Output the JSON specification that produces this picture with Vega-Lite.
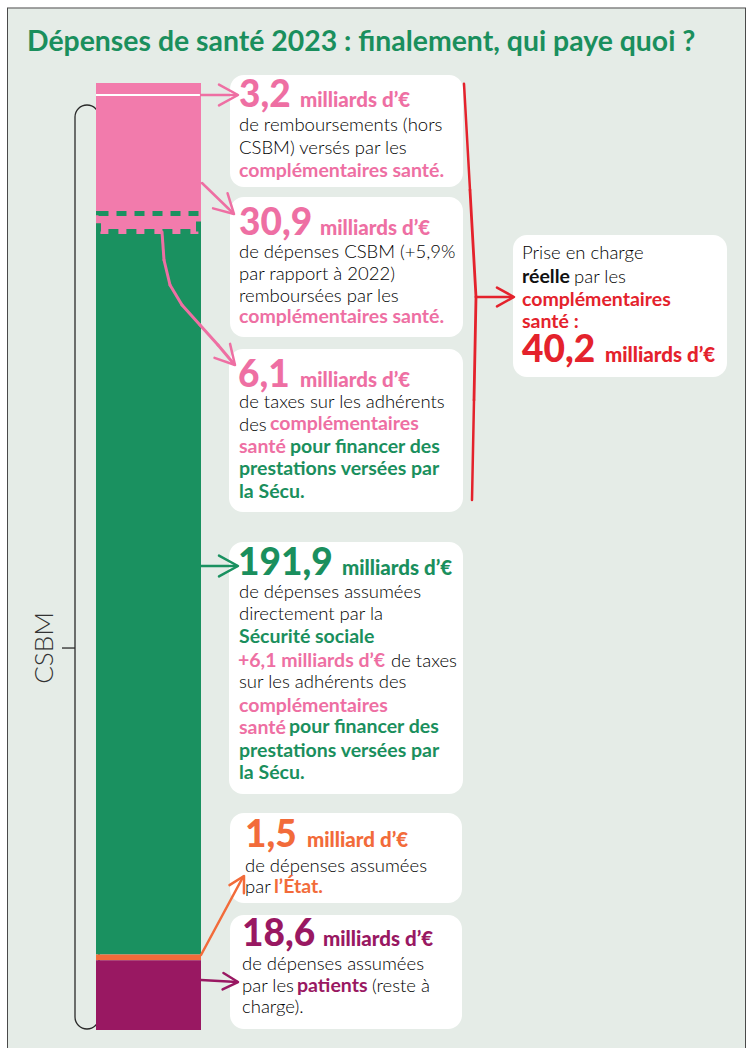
{
  "$schema": "https://vega.github.io/schema/vega-lite/v6.json",
  "width": 749,
  "height": 1048,
  "autosize": {"type": "none"},
  "padding": 0,
  "background": "#ffffff",
  "data": {"values": [{}]},
  "datasets": {
    "segs": [
      {"rank": 1, "segment": "Remboursements hors CSBM des complémentaires santé", "payer": "Complémentaires santé", "value": 3.2},
      {"rank": 2, "segment": "Dépenses CSBM remboursées par les complémentaires santé", "payer": "Complémentaires santé", "value": 30.9},
      {"rank": 3, "segment": "Taxes sur les adhérents des complémentaires santé", "payer": "Complémentaires santé", "value": 6.1},
      {"rank": 4, "segment": "Dépenses assumées par la Sécurité sociale", "payer": "Sécurité sociale", "value": 191.9},
      {"rank": 5, "segment": "Dépenses assumées par l'État", "payer": "État", "value": 1.5},
      {"rank": 6, "segment": "Reste à charge des patients", "payer": "Patients", "value": 18.6}
    ]
  },
  "config": {
    "view": {"stroke": null},
    "axis": {"disable": true},
    "style": {
      "big": {"font": "Lato", "fontWeight": 900, "fontSize": 37, "align": "left", "baseline": "alphabetic"},
      "unit": {"font": "Lato", "fontWeight": 900, "fontSize": 20.5, "align": "left", "baseline": "alphabetic"},
      "body": {"font": "Lato", "fontWeight": 300, "fontSize": 18.5, "fill": "#3a3a3a", "align": "left", "baseline": "alphabetic", "lineHeight": 22.5},
      "bold": {"font": "Lato", "fontWeight": 700, "fontSize": 19.5, "align": "left", "baseline": "alphabetic", "lineHeight": 22.5}
    }
  },
  "layer": [
    {"mark": {"type": "rect", "fill": "#E5ECE7"},
     "encoding": {
       "x": {"datum": 7, "type": "quantitative", "scale": {"domain": [0, 749], "nice": false, "zero": false}, "axis": null},
       "x2": {"datum": 746},
       "y": {"datum": -19.97, "type": "quantitative", "scale": {"domain": [-22.1, 257], "reverse": true, "nice": false, "zero": false}, "axis": null},
       "y2": {"datum": 257}}},
    {"mark": {"type": "rule", "stroke": "#4a4a4a", "strokeWidth": 1},
     "encoding": {"x": {"datum": 7, "type": "quantitative"}, "x2": {"datum": 746}, "y": {"datum": -19.97, "type": "quantitative"}}},
    {"mark": {"type": "rule", "stroke": "#4a4a4a", "strokeWidth": 1},
     "encoding": {"x": {"datum": 7.5, "type": "quantitative"}, "y": {"datum": -19.97, "type": "quantitative"}, "y2": {"datum": 257}}},
    {"mark": {"type": "rule", "stroke": "#4a4a4a", "strokeWidth": 1},
     "encoding": {"x": {"datum": 745.5, "type": "quantitative"}, "y": {"datum": -19.97, "type": "quantitative"}, "y2": {"datum": 257}}},
    {"mark": {"type": "text", "text": "Dépenses de santé 2023 : finalement, qui paye quoi ?", "font": "Lato", "fontWeight": 700, "fontSize": 28.4, "fill": "#1A8F5D", "align": "left", "baseline": "alphabetic"},
     "encoding": {"x": {"datum": 27, "type": "quantitative"}, "y": {"datum": -8.52, "type": "quantitative"}}},

    {"mark": {"type": "rect", "fillOpacity": 0, "stroke": "#2a2a2a", "strokeWidth": 1.3, "cornerRadius": 13},
     "encoding": {"x": {"datum": 75, "type": "quantitative"}, "x2": {"datum": 99}, "y": {"datum": 5.86, "type": "quantitative"}, "y2": {"datum": 251.94}}},
    {"mark": {"type": "rule", "stroke": "#2a2a2a", "strokeWidth": 1.3},
     "encoding": {"x": {"datum": 62, "type": "quantitative"}, "x2": {"datum": 75}, "y": {"datum": 150.48, "type": "quantitative"}}},
    {"mark": {"type": "text", "text": "CSBM", "angle": 270, "align": "center", "baseline": "alphabetic", "font": "Lato", "fontWeight": 300, "fontSize": 26, "fill": "#333333"},
     "encoding": {"x": {"datum": 53, "type": "quantitative"}, "y": {"datum": 150.48, "type": "quantitative"}}},

    {"data": {"name": "segs"},
     "transform": [{"stack": "value", "groupby": [], "sort": [{"field": "rank", "order": "ascending"}], "as": ["v0", "v1"]}],
     "mark": {"type": "rect"},
     "encoding": {
       "x": {"datum": 96, "type": "quantitative"}, "x2": {"datum": 201},
       "y": {"field": "v0", "type": "quantitative"}, "y2": {"field": "v1"},
       "color": {"field": "payer", "type": "nominal", "legend": null,
         "scale": {"domain": ["Complémentaires santé", "Sécurité sociale", "État", "Patients"], "range": ["#F27BAC", "#1A9160", "#F26B3A", "#991862"]}}}},
    {"data": {"name": "segs"},
     "transform": [{"stack": "value", "groupby": [], "sort": [{"field": "rank", "order": "ascending"}], "as": ["v0", "v1"]}, {"filter": "datum.rank == 3"}],
     "mark": {"type": "rect", "fillOpacity": 0, "stroke": "#1A9160", "strokeWidth": 5, "strokeDash": [10, 8], "yOffset": 2.5, "y2Offset": -2.5},
     "encoding": {"x": {"datum": 98.5, "type": "quantitative"}, "x2": {"datum": 198.5}, "y": {"field": "v0", "type": "quantitative"}, "y2": {"field": "v1"}}},
    {"data": {"name": "segs"},
     "transform": [{"stack": "value", "groupby": [], "sort": [{"field": "rank", "order": "ascending"}], "as": ["v0", "v1"]}, {"filter": "datum.rank == 1"}],
     "mark": {"type": "rule", "stroke": "#ffffff", "strokeWidth": 2},
     "encoding": {"x": {"datum": 96, "type": "quantitative"}, "x2": {"datum": 201}, "y": {"field": "v1", "type": "quantitative"}}},

    {"mark": {"type": "rect", "fill": "#ffffff", "cornerRadius": 14},
     "encoding": {"x": {"datum": 230, "type": "quantitative"}, "x2": {"datum": 463}, "y": {"datum": -2.13, "type": "quantitative"}, "y2": {"datum": 27.7}}},
    {"mark": {"type": "rect", "fill": "#ffffff", "cornerRadius": 14},
     "encoding": {"x": {"datum": 230, "type": "quantitative"}, "x2": {"datum": 463}, "y": {"datum": 30.37, "type": "quantitative"}, "y2": {"datum": 67.65}}},
    {"mark": {"type": "rect", "fill": "#ffffff", "cornerRadius": 14},
     "encoding": {"x": {"datum": 229, "type": "quantitative"}, "x2": {"datum": 463}, "y": {"datum": 70.85, "type": "quantitative"}, "y2": {"datum": 114.26}}},
    {"mark": {"type": "rect", "fill": "#ffffff", "cornerRadius": 14},
     "encoding": {"x": {"datum": 513, "type": "quantitative"}, "x2": {"datum": 727}, "y": {"datum": 40.49, "type": "quantitative"}, "y2": {"datum": 78.3}}},
    {"mark": {"type": "rect", "fill": "#ffffff", "cornerRadius": 14},
     "encoding": {"x": {"datum": 229, "type": "quantitative"}, "x2": {"datum": 463}, "y": {"datum": 122.25, "type": "quantitative"}, "y2": {"datum": 189.36}}},
    {"mark": {"type": "rect", "fill": "#ffffff", "cornerRadius": 14},
     "encoding": {"x": {"datum": 230, "type": "quantitative"}, "x2": {"datum": 462}, "y": {"datum": 194.42, "type": "quantitative"}, "y2": {"datum": 218.39}}},
    {"mark": {"type": "rect", "fill": "#ffffff", "cornerRadius": 14},
     "encoding": {"x": {"datum": 230, "type": "quantitative"}, "x2": {"datum": 462}, "y": {"datum": 221.58, "type": "quantitative"}, "y2": {"datum": 251.94}}},

    {"mark": {"type": "rule", "stroke": "#EE6FA3", "strokeWidth": 2.5, "strokeCap": "round"},
     "encoding": {"x": {"datum": 201, "type": "quantitative"}, "x2": {"datum": 237}, "y": {"datum": 3.2, "type": "quantitative"}}},
    {"mark": {"type": "point", "shape": "M-1,-0.55L0,0L-1,0.55", "size": 1444, "angle": 0, "filled": false, "stroke": "#EE6FA3", "strokeWidth": 2.5, "opacity": 1, "strokeCap": "round", "strokeJoin": "round"},
     "encoding": {"x": {"datum": 238, "type": "quantitative"}, "y": {"datum": 3.2, "type": "quantitative"}}},
    {"mark": {"type": "rule", "stroke": "#EE6FA3", "strokeWidth": 2.5, "strokeCap": "round"},
     "encoding": {"x": {"datum": 202, "type": "quantitative"}, "x2": {"datum": 233}, "y": {"datum": 26.64, "type": "quantitative"}, "y2": {"datum": 34.63}}},
    {"mark": {"type": "point", "shape": "M-1,-0.55L0,0L-1,0.55", "size": 1444, "angle": 44, "filled": false, "stroke": "#EE6FA3", "strokeWidth": 2.5, "opacity": 1, "strokeCap": "round", "strokeJoin": "round"},
     "encoding": {"x": {"datum": 234, "type": "quantitative"}, "y": {"datum": 34.9, "type": "quantitative"}}},
    {"mark": {"type": "rule", "stroke": "#EE6FA3", "strokeWidth": 3, "strokeCap": "round"},
     "encoding": {"x": {"datum": 162, "type": "quantitative"}, "x2": {"datum": 164}, "y": {"datum": 39.69, "type": "quantitative"}, "y2": {"datum": 47.14}}},
    {"mark": {"type": "rule", "stroke": "#EE6FA3", "strokeWidth": 3, "strokeCap": "round"},
     "encoding": {"x": {"datum": 164, "type": "quantitative"}, "x2": {"datum": 170}, "y": {"datum": 47.14, "type": "quantitative"}, "y2": {"datum": 53.8}}},
    {"mark": {"type": "rule", "stroke": "#EE6FA3", "strokeWidth": 3, "strokeCap": "round"},
     "encoding": {"x": {"datum": 170, "type": "quantitative"}, "x2": {"datum": 182}, "y": {"datum": 53.8, "type": "quantitative"}, "y2": {"datum": 59.13}}},
    {"mark": {"type": "rule", "stroke": "#EE6FA3", "strokeWidth": 3, "strokeCap": "round"},
     "encoding": {"x": {"datum": 182, "type": "quantitative"}, "x2": {"datum": 200}, "y": {"datum": 59.13, "type": "quantitative"}, "y2": {"datum": 64.45}}},
    {"mark": {"type": "rule", "stroke": "#EE6FA3", "strokeWidth": 3, "strokeCap": "round"},
     "encoding": {"x": {"datum": 200, "type": "quantitative"}, "x2": {"datum": 218}, "y": {"datum": 64.45, "type": "quantitative"}, "y2": {"datum": 69.78}}},
    {"mark": {"type": "rule", "stroke": "#EE6FA3", "strokeWidth": 3, "strokeCap": "round"},
     "encoding": {"x": {"datum": 218, "type": "quantitative"}, "x2": {"datum": 234}, "y": {"datum": 69.78, "type": "quantitative"}, "y2": {"datum": 74.84}}},
    {"mark": {"type": "point", "shape": "M-1,-0.55L0,0L-1,0.55", "size": 1444, "angle": 48, "filled": false, "stroke": "#EE6FA3", "strokeWidth": 2.5, "opacity": 1, "strokeCap": "round", "strokeJoin": "round"},
     "encoding": {"x": {"datum": 235, "type": "quantitative"}, "y": {"datum": 75.1, "type": "quantitative"}}},

    {"mark": {"type": "rule", "stroke": "#1A9160", "strokeWidth": 2.5, "strokeCap": "round"},
     "encoding": {"x": {"datum": 201, "type": "quantitative"}, "x2": {"datum": 237}, "y": {"datum": 128.64, "type": "quantitative"}}},
    {"mark": {"type": "point", "shape": "M-1,-0.55L0,0L-1,0.55", "size": 1444, "angle": 0, "filled": false, "stroke": "#1A9160", "strokeWidth": 2.5, "opacity": 1, "strokeCap": "round", "strokeJoin": "round"},
     "encoding": {"x": {"datum": 238, "type": "quantitative"}, "y": {"datum": 128.64, "type": "quantitative"}}},
    {"mark": {"type": "rule", "stroke": "#F26B3A", "strokeWidth": 2.5, "strokeCap": "round"},
     "encoding": {"x": {"datum": 201, "type": "quantitative"}, "x2": {"datum": 243}, "y": {"datum": 232.23, "type": "quantitative"}, "y2": {"datum": 211.46}}},
    {"mark": {"type": "point", "shape": "M-1,-0.55L0,0L-1,0.55", "size": 900, "angle": -61, "filled": false, "stroke": "#F26B3A", "strokeWidth": 2.5, "opacity": 1, "strokeCap": "round", "strokeJoin": "round"},
     "encoding": {"x": {"datum": 244, "type": "quantitative"}, "y": {"datum": 211.2, "type": "quantitative"}}},
    {"mark": {"type": "rule", "stroke": "#991862", "strokeWidth": 2.5, "strokeCap": "round"},
     "encoding": {"x": {"datum": 201, "type": "quantitative"}, "x2": {"datum": 237}, "y": {"datum": 238.89, "type": "quantitative"}, "y2": {"datum": 239.43}}},
    {"mark": {"type": "point", "shape": "M-1,-0.55L0,0L-1,0.55", "size": 900, "angle": 3, "filled": false, "stroke": "#991862", "strokeWidth": 2.5, "opacity": 1, "strokeCap": "round", "strokeJoin": "round"},
     "encoding": {"x": {"datum": 238, "type": "quantitative"}, "y": {"datum": 239.43, "type": "quantitative"}}},

    {"mark": {"type": "rule", "stroke": "#E4222C", "strokeWidth": 2.5, "strokeCap": "round"},
     "encoding": {"x": {"datum": 464, "type": "quantitative"}, "x2": {"datum": 470}, "y": {"datum": 0.2, "type": "quantitative"}, "y2": {"datum": 28.5}}},
    {"mark": {"type": "rule", "stroke": "#E4222C", "strokeWidth": 2.8, "strokeCap": "round"},
     "encoding": {"x": {"datum": 470, "type": "quantitative"}, "x2": {"datum": 476}, "y": {"datum": 28.5, "type": "quantitative"}, "y2": {"datum": 56.99}}},
    {"mark": {"type": "rule", "stroke": "#E4222C", "strokeWidth": 2.8, "strokeCap": "round"},
     "encoding": {"x": {"datum": 476, "type": "quantitative"}, "x2": {"datum": 474}, "y": {"datum": 56.99, "type": "quantitative"}, "y2": {"datum": 84.43}}},
    {"mark": {"type": "rule", "stroke": "#E4222C", "strokeWidth": 2.5, "strokeCap": "round"},
     "encoding": {"x": {"datum": 474, "type": "quantitative"}, "x2": {"datum": 472}, "y": {"datum": 84.43, "type": "quantitative"}, "y2": {"datum": 111.06}}},
    {"mark": {"type": "rule", "stroke": "#E4222C", "strokeWidth": 2.5, "strokeCap": "round"},
     "encoding": {"x": {"datum": 476, "type": "quantitative"}, "x2": {"datum": 513}, "y": {"datum": 56.99, "type": "quantitative"}}},
    {"mark": {"type": "point", "shape": "M-1,-0.55L0,0L-1,0.55", "size": 1156, "angle": 0, "filled": false, "stroke": "#E4222C", "strokeWidth": 2.5, "opacity": 1, "strokeCap": "round", "strokeJoin": "round"},
     "encoding": {"x": {"datum": 514, "type": "quantitative"}, "y": {"datum": 56.99, "type": "quantitative"}}},

    {"mark": {"type": "text", "style": "big", "text": "3,2", "fill": "#EE6FA3"},
     "encoding": {"x": {"datum": 239, "type": "quantitative"}, "y": {"datum": 6.4, "type": "quantitative"}}},
    {"mark": {"type": "text", "style": "unit", "text": "milliards d’€", "fill": "#EE6FA3"},
     "encoding": {"x": {"datum": 300, "type": "quantitative"}, "y": {"datum": 6.4, "type": "quantitative"}}},
    {"mark": {"type": "text", "style": "body", "text": ["de remboursements (hors", "CSBM) versés par les"], "lineHeight": 23},
     "encoding": {"x": {"datum": 239, "type": "quantitative"}, "y": {"datum": 12.92, "type": "quantitative"}}},
    {"mark": {"type": "text", "style": "bold", "text": "complémentaires santé.", "fill": "#EE6FA3"},
     "encoding": {"x": {"datum": 239, "type": "quantitative"}, "y": {"datum": 25.04, "type": "quantitative"}}},

    {"mark": {"type": "text", "style": "big", "text": "30,9", "fill": "#EE6FA3"},
     "encoding": {"x": {"datum": 239, "type": "quantitative"}, "y": {"datum": 40.49, "type": "quantitative"}}},
    {"mark": {"type": "text", "style": "unit", "text": "milliards d’€", "fill": "#EE6FA3"},
     "encoding": {"x": {"datum": 320, "type": "quantitative"}, "y": {"datum": 40.49, "type": "quantitative"}}},
    {"mark": {"type": "text", "style": "body", "text": ["de dépenses CSBM (+5,9%", "par rapport à 2022)", "remboursées par les"], "lineHeight": 22},
     "encoding": {"x": {"datum": 239, "type": "quantitative"}, "y": {"datum": 46.48, "type": "quantitative"}}},
    {"mark": {"type": "text", "style": "bold", "text": "complémentaires santé.", "fill": "#EE6FA3"},
     "encoding": {"x": {"datum": 239, "type": "quantitative"}, "y": {"datum": 63.92, "type": "quantitative"}}},

    {"mark": {"type": "text", "style": "big", "text": "6,1", "fill": "#EE6FA3"},
     "encoding": {"x": {"datum": 238, "type": "quantitative"}, "y": {"datum": 80.97, "type": "quantitative"}}},
    {"mark": {"type": "text", "style": "unit", "text": "milliards d’€", "fill": "#EE6FA3"},
     "encoding": {"x": {"datum": 300, "type": "quantitative"}, "y": {"datum": 80.97, "type": "quantitative"}}},
    {"mark": {"type": "text", "style": "body", "text": ["de taxes sur les adhérents", "des"]},
     "encoding": {"x": {"datum": 239, "type": "quantitative"}, "y": {"datum": 86.56, "type": "quantitative"}}},
    {"mark": {"type": "text", "style": "bold", "text": "complémentaires", "fill": "#EE6FA3"},
     "encoding": {"x": {"datum": 270, "type": "quantitative"}, "y": {"datum": 92.42, "type": "quantitative"}}},
    {"mark": {"type": "text", "style": "bold", "text": "santé", "fill": "#EE6FA3"},
     "encoding": {"x": {"datum": 239, "type": "quantitative"}, "y": {"datum": 98.54, "type": "quantitative"}}},
    {"mark": {"type": "text", "style": "bold", "text": "pour financer des", "fill": "#1A8F5D"},
     "encoding": {"x": {"datum": 290, "type": "quantitative"}, "y": {"datum": 98.54, "type": "quantitative"}}},
    {"mark": {"type": "text", "style": "bold", "text": ["prestations versées par", "la Sécu."], "fill": "#1A8F5D", "lineHeight": 23},
     "encoding": {"x": {"datum": 239, "type": "quantitative"}, "y": {"datum": 104.4, "type": "quantitative"}}},

    {"mark": {"type": "text", "style": "body", "text": "Prise en charge"},
     "encoding": {"x": {"datum": 522, "type": "quantitative"}, "y": {"datum": 46.88, "type": "quantitative"}}},
    {"mark": {"type": "text", "style": "bold", "text": "réelle", "fill": "#111111"},
     "encoding": {"x": {"datum": 522, "type": "quantitative"}, "y": {"datum": 53.27, "type": "quantitative"}}},
    {"mark": {"type": "text", "style": "body", "text": "par les"},
     "encoding": {"x": {"datum": 574, "type": "quantitative"}, "y": {"datum": 53.27, "type": "quantitative"}}},
    {"mark": {"type": "text", "style": "bold", "text": ["complémentaires", "santé :"], "fill": "#E4222C", "lineHeight": 22},
     "encoding": {"x": {"datum": 522, "type": "quantitative"}, "y": {"datum": 59.39, "type": "quantitative"}}},
    {"mark": {"type": "text", "style": "big", "text": "40,2", "fill": "#E4222C"},
     "encoding": {"x": {"datum": 522, "type": "quantitative"}, "y": {"datum": 74.31, "type": "quantitative"}}},
    {"mark": {"type": "text", "style": "unit", "text": "milliards d’€", "fill": "#E4222C"},
     "encoding": {"x": {"datum": 605, "type": "quantitative"}, "y": {"datum": 74.31, "type": "quantitative"}}},

    {"mark": {"type": "text", "style": "big", "text": "191,9", "fill": "#1A8F5D"},
     "encoding": {"x": {"datum": 238, "type": "quantitative"}, "y": {"datum": 131.03, "type": "quantitative"}}},
    {"mark": {"type": "text", "style": "unit", "text": "milliards d’€", "fill": "#1A8F5D"},
     "encoding": {"x": {"datum": 342, "type": "quantitative"}, "y": {"datum": 131.03, "type": "quantitative"}}},
    {"mark": {"type": "text", "style": "body", "text": ["de dépenses assumées", "directement par la"], "lineHeight": 22},
     "encoding": {"x": {"datum": 239, "type": "quantitative"}, "y": {"datum": 137.16, "type": "quantitative"}}},
    {"mark": {"type": "text", "style": "bold", "text": "Sécurité sociale", "fill": "#1A8F5D"},
     "encoding": {"x": {"datum": 239, "type": "quantitative"}, "y": {"datum": 149.14, "type": "quantitative"}}},
    {"mark": {"type": "text", "style": "bold", "text": "+6,1 milliards d’€", "fill": "#EE6FA3"},
     "encoding": {"x": {"datum": 238, "type": "quantitative"}, "y": {"datum": 155.54, "type": "quantitative"}}},
    {"mark": {"type": "text", "style": "body", "text": "de taxes"},
     "encoding": {"x": {"datum": 391, "type": "quantitative"}, "y": {"datum": 155.54, "type": "quantitative"}}},
    {"mark": {"type": "text", "style": "body", "text": "sur les adhérents des"},
     "encoding": {"x": {"datum": 239, "type": "quantitative"}, "y": {"datum": 161.13, "type": "quantitative"}}},
    {"mark": {"type": "text", "style": "bold", "text": ["complémentaires", "santé"], "fill": "#EE6FA3", "lineHeight": 21.5},
     "encoding": {"x": {"datum": 239, "type": "quantitative"}, "y": {"datum": 167.52, "type": "quantitative"}}},
    {"mark": {"type": "text", "style": "bold", "text": "pour financer des", "fill": "#1A8F5D"},
     "encoding": {"x": {"datum": 289, "type": "quantitative"}, "y": {"datum": 173.11, "type": "quantitative"}}},
    {"mark": {"type": "text", "style": "bold", "text": ["prestations versées par", "la Sécu."], "fill": "#1A8F5D", "lineHeight": 22},
     "encoding": {"x": {"datum": 239, "type": "quantitative"}, "y": {"datum": 179.5, "type": "quantitative"}}},

    {"mark": {"type": "text", "style": "big", "text": "1,5", "fill": "#F26B3A"},
     "encoding": {"x": {"datum": 245, "type": "quantitative"}, "y": {"datum": 203.47, "type": "quantitative"}}},
    {"mark": {"type": "text", "style": "unit", "text": "milliard d’€", "fill": "#F26B3A"},
     "encoding": {"x": {"datum": 307, "type": "quantitative"}, "y": {"datum": 203.47, "type": "quantitative"}}},
    {"mark": {"type": "text", "style": "body", "text": ["de dépenses assumées", "par"], "lineHeight": 21},
     "encoding": {"x": {"datum": 245, "type": "quantitative"}, "y": {"datum": 210.13, "type": "quantitative"}}},
    {"mark": {"type": "text", "style": "bold", "text": "l’État.", "fill": "#F26B3A"},
     "encoding": {"x": {"datum": 274, "type": "quantitative"}, "y": {"datum": 215.72, "type": "quantitative"}}},

    {"mark": {"type": "text", "style": "big", "text": "18,6", "fill": "#991862"},
     "encoding": {"x": {"datum": 242, "type": "quantitative"}, "y": {"datum": 229.84, "type": "quantitative"}}},
    {"mark": {"type": "text", "style": "unit", "text": "milliards d’€", "fill": "#991862"},
     "encoding": {"x": {"datum": 323, "type": "quantitative"}, "y": {"datum": 229.84, "type": "quantitative"}}},
    {"mark": {"type": "text", "style": "body", "text": ["de dépenses assumées", "par les"], "lineHeight": 22},
     "encoding": {"x": {"datum": 242, "type": "quantitative"}, "y": {"datum": 236.23, "type": "quantitative"}}},
    {"mark": {"type": "text", "style": "bold", "text": "patients", "fill": "#991862"},
     "encoding": {"x": {"datum": 297, "type": "quantitative"}, "y": {"datum": 242.09, "type": "quantitative"}}},
    {"mark": {"type": "text", "style": "body", "text": "(reste à"},
     "encoding": {"x": {"datum": 372, "type": "quantitative"}, "y": {"datum": 242.09, "type": "quantitative"}}},
    {"mark": {"type": "text", "style": "body", "text": "charge)."},
     "encoding": {"x": {"datum": 242, "type": "quantitative"}, "y": {"datum": 247.68, "type": "quantitative"}}}
  ]
}
